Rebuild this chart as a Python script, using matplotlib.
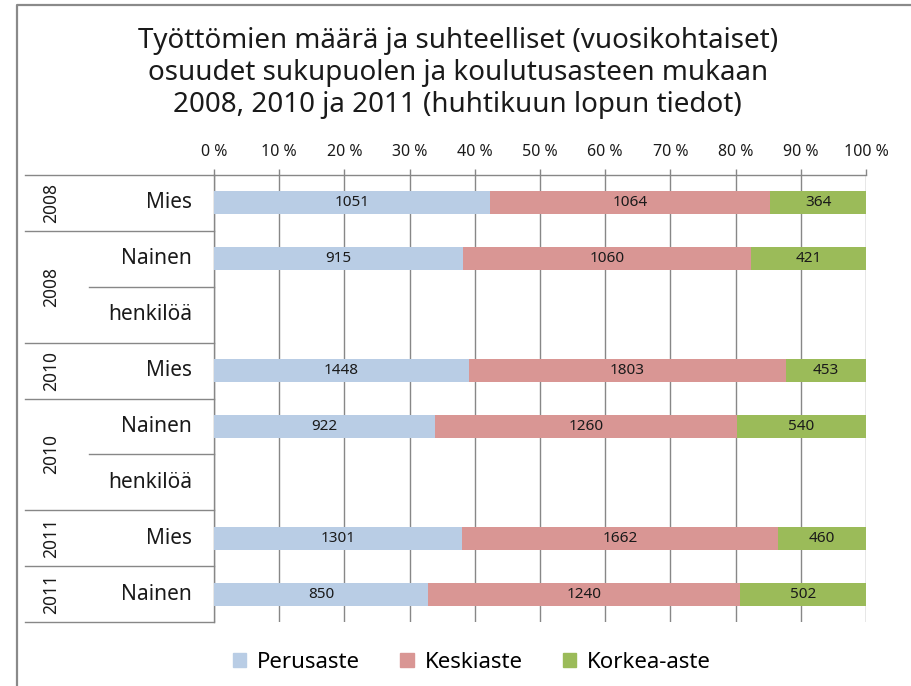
import numpy as np
import matplotlib.pyplot as plt
from matplotlib.lines import Line2D
from matplotlib.patches import Patch

plt.rcParams['font.family'] = ['Noto Sans', 'DejaVu Sans']

# rows from top to bottom
groups = ['Mies', 'Nainen', 'henkilöä', 'Mies', 'Nainen', 'henkilöä', 'Mies', 'Nainen']
# outer year labels and how many rows each one spans
year_labels = ['2008', '2008', '2010', '2010', '2011', '2011']
year_spans = [1, 2, 1, 2, 1, 1]
perusaste = [1051, 915, np.nan, 1448, 922, np.nan, 1301, 850]
keskiaste = [1064, 1060, np.nan, 1803, 1260, np.nan, 1662, 1240]
korkea = [364, 421, np.nan, 453, 540, np.nan, 460, 502]

series = ['Perusaste', 'Keskiaste', 'Korkea-aste']
colors = ['#B9CDE5', '#D99694', '#9BBB59']
grid_col = '#878787'
txt_col = '#1a1a1a'

W, H = 912, 686
fig = plt.figure(figsize=(W / 100, H / 100), dpi=100)

# outer chart border (only top and left visible in the picture)
fig.add_artist(Line2D([17 / W, 17 / W, 1], [0, 1 - 5 / H, 1 - 5 / H],
                      transform=fig.transFigure, color='#8a8a8a', lw=1.6))

ax = fig.add_axes([214 / W, 1 - 622 / H, (866 - 214) / W, (622 - 175) / H])

data = np.array([perusaste, keskiaste, korkea], dtype=float)
tot = data.sum(axis=0)
y = np.arange(len(groups))
left = np.zeros(len(groups))
for vals, col, name in zip(data, colors, series):
    share = np.where(np.isnan(tot), 0, vals / tot * 100)
    ax.barh(y, share, left=left, height=0.41, color=col, zorder=3, label=name)
    for yi, (l, s, v) in enumerate(zip(left, share, vals)):
        if not np.isnan(v):
            ax.text(l + s / 2, yi, '%d' % v, ha='center', va='center',
                    fontsize=11, color=txt_col, zorder=4)
    left = left + share

ax.set_xlim(0, 100)
ax.set_ylim(len(groups) - 0.5, -0.5)
ax.set_xticks(np.arange(0, 101, 10))
ax.set_xticklabels(['%d %%' % v for v in range(0, 101, 10)], fontsize=11.5,
                   color=txt_col)
ax.xaxis.tick_top()
ax.tick_params(axis='x', length=4, width=1, color=grid_col, pad=7)
ax.set_yticks([])
ax.grid(axis='x', color=grid_col, lw=1, zorder=0)
ax.spines['bottom'].set_visible(False)
ax.spines['right'].set_visible(False)
for s in ['top', 'left']:
    ax.spines[s].set_color(grid_col)
    ax.spines[s].set_linewidth(1)

# multi-level category axis
x_full = (25 - 214) / 652
x_inner = (89 - 214) / 652
tr = ax.get_yaxis_transform()
starts = np.concatenate([[0], np.cumsum(year_spans)])
for i in range(len(groups) + 1):
    x0 = x_full if i in starts else x_inner
    ax.plot([x0, 0], [i - 0.5, i - 0.5], transform=tr, color=grid_col, lw=1,
            clip_on=False)

for yi, g in enumerate(groups):
    ax.text((192 - 214) / 652, yi, g, transform=tr, ha='right', va='center',
            fontsize=15, color=txt_col)

for lab, s0, n in zip(year_labels, starts[:-1], year_spans):
    ax.text((51 - 214) / 652, s0 + (n - 1) / 2, lab, transform=tr, rotation=90,
            ha='center', va='center', fontsize=12.5, color=txt_col)

fig.text(0.502, 1 - 73 / H,
         'Työttömien määrä ja suhteelliset (vuosikohtaiset)\n'
         'osuudet sukupuolen ja koulutusasteen mukaan\n'
         '2008, 2010 ja 2011 (huhtikuun lopun tiedot)',
         ha='center', va='center', fontsize=20, linespacing=1.2, color=txt_col)

handles = [Patch(color=c) for c in colors]
fig.legend(handles, series, loc='center', bbox_to_anchor=(472 / W, 1 - 662 / H),
           ncol=3, frameon=False, fontsize=16, handlelength=0.6, handleheight=0.6,
           columnspacing=1.8, handletextpad=0.5)

fig.savefig('out.png', dpi=100)
